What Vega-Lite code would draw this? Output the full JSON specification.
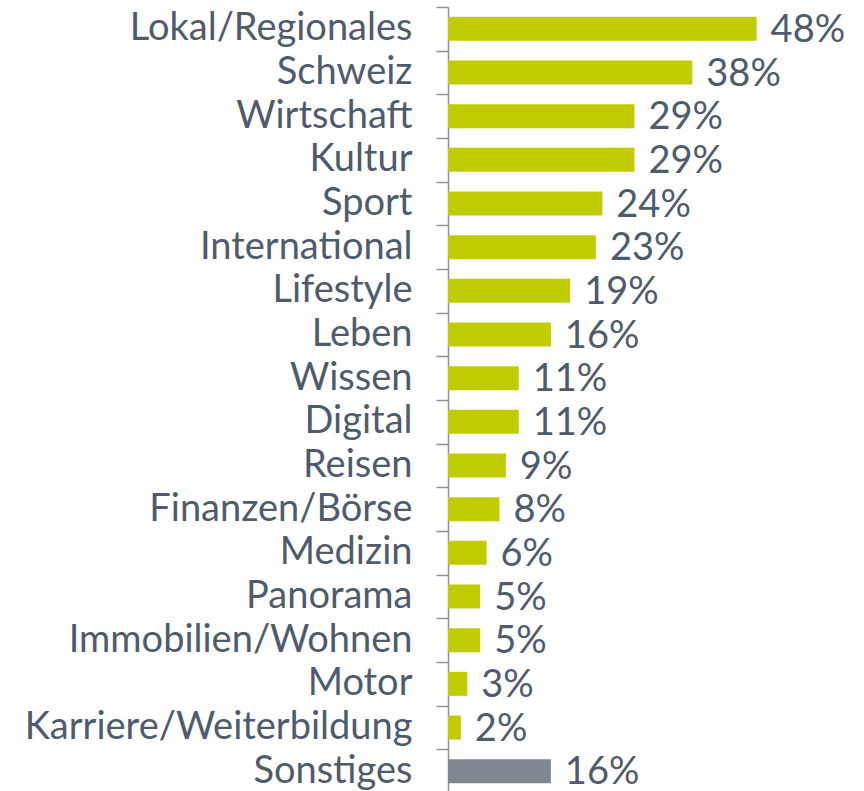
{
  "$schema": "https://vega.github.io/schema/vega-lite/v6.json",
  "width": 416,
  "height": 786,
  "autosize": {"type": "none"},
  "padding": {"left": 448, "top": 7, "right": 0, "bottom": 0},
  "background": "white",
  "config": {"view": {"stroke": null}, "font": "Lato"},
  "data": {
    "values": [
      {"topic": "Lokal/Regionales", "value": 48, "type": "main"},
      {"topic": "Schweiz", "value": 38, "type": "main"},
      {"topic": "Wirtschaft", "value": 29, "type": "main"},
      {"topic": "Kultur", "value": 29, "type": "main"},
      {"topic": "Sport", "value": 24, "type": "main"},
      {"topic": "International", "value": 23, "type": "main"},
      {"topic": "Lifestyle", "value": 19, "type": "main"},
      {"topic": "Leben", "value": 16, "type": "main"},
      {"topic": "Wissen", "value": 11, "type": "main"},
      {"topic": "Digital", "value": 11, "type": "main"},
      {"topic": "Reisen", "value": 9, "type": "main"},
      {"topic": "Finanzen/Börse", "value": 8, "type": "main"},
      {"topic": "Medizin", "value": 6, "type": "main"},
      {"topic": "Panorama", "value": 5, "type": "main"},
      {"topic": "Immobilien/Wohnen", "value": 5, "type": "main"},
      {"topic": "Motor", "value": 3, "type": "main"},
      {"topic": "Karriere/Weiterbildung", "value": 2, "type": "main"},
      {"topic": "Sonstiges", "value": 16, "type": "other"}
    ]
  },
  "encoding": {
    "y": {
      "field": "topic",
      "type": "nominal",
      "sort": null,
      "scale": {"paddingInner": 0.45, "paddingOuter": 0.225},
      "axis": {
        "title": null,
        "domainColor": "#8a939c",
        "domainWidth": 1.5,
        "tickColor": "#8a939c",
        "tickWidth": 1.5,
        "tickSize": 12,
        "tickOffset": -21.83,
        "labelOffset": 21.83,
        "labelFontSize": 38,
        "labelColor": "#4f5b6a",
        "labelPadding": 24,
        "labelLimit": 600
      }
    },
    "x": {
      "field": "value",
      "type": "quantitative",
      "scale": {"domain": [0, 64.7], "nice": false},
      "axis": null
    }
  },
  "layer": [
    {
      "mark": {"type": "bar"},
      "encoding": {
        "color": {
          "field": "type",
          "type": "nominal",
          "scale": {"domain": ["main", "other"], "range": ["#c0cc00", "#7f8790"]},
          "legend": null
        }
      }
    },
    {
      "mark": {"type": "text", "align": "left", "baseline": "middle", "dx": 14, "dy": 2, "fontSize": 38, "color": "#4f5b6a", "text": {"expr": "datum.value + '%'"}},
      "encoding": {}
    }
  ]
}
